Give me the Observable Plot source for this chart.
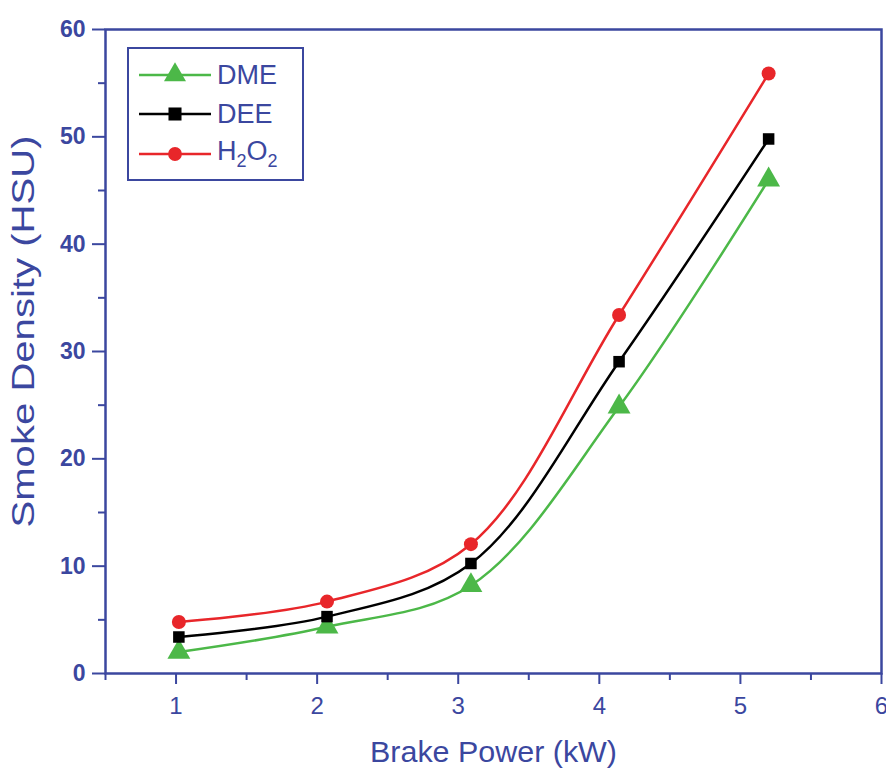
<!DOCTYPE html>
<html><head><meta charset="utf-8">
<script src="https://cdn.jsdelivr.net/npm/d3@7"></script>
<script src="https://cdn.jsdelivr.net/npm/@observablehq/plot@0.6"></script>
<style>
body{margin:0;background:#fff;font-family:"Liberation Sans",Arial,sans-serif}
#wrap{position:relative;width:886px;height:770px}
#legend{position:absolute;left:127px;top:47px;width:173px;height:130px;border:2.5px solid #3b479f;background:#fff;box-sizing:content-box}
.row{position:absolute;left:0;height:30px;display:flex;align-items:center}
.row span{font-size:27px;color:#3b479f;margin-left:5px;line-height:1}
.row sub{font-size:18px;vertical-align:-7px}
</style>
</head><body><div id="wrap"></div>
<script>
const power = [1.02, 2.07, 3.09, 4.14, 5.2];
const dme = [2.0, 4.35, 8.2, 24.85, 46.0];
const dee = [3.4, 5.3, 10.25, 29.05, 49.8];
const h2o2 = [4.8, 6.7, 12.05, 33.4, 55.9];
const seriesNames = ["DME", "DEE", "H2O2"];
const seriesColors = ["#4cb848", "#000000", "#e8262a"];
const seriesSymbols = ["triangle", "square", "circle"];
const xTicks = [1, 2, 3, 4, 5, 6];
const xMinor = [0.5, 1.5, 2.5, 3.5, 4.5, 5.5];
const yTicks = [0, 10, 20, 30, 40, 50, 60];
const yMinor = [5, 15, 25, 35, 45, 55];
const xTitle = "Brake Power (kW)";
const yTitle = "Smoke Density (HSU)";

const blue = "#3b479f";
const allValues = [dme, dee, h2o2];
const data = [];
allValues.forEach((vals, i) => vals.forEach((v, j) => data.push({series: seriesNames[i], x: power[j], y: v})));

const markSizes = {triangle: 8.5, square: 6.5, circle: 7};

const marks = [
  Plot.axisX({ticks: xTicks, tickFormat: d3.format("d"), tickSize: 11, tickPadding: 12, fontSize: 24, stroke: blue, strokeWidth: 2, fill: blue, color: blue, label: null}),
  Plot.axisX({ticks: xMinor, tickSize: 7, tickFormat: () => "", stroke: blue, strokeWidth: 2, label: null}),
  Plot.axisY({ticks: yTicks, tickFormat: d3.format("d"), tickSize: 13, tickPadding: 7, fontSize: 23, fontWeight: "bold", stroke: blue, strokeWidth: 2, fill: blue, color: blue, label: null}),
  Plot.axisY({ticks: yMinor, tickSize: 7, tickFormat: () => "", stroke: blue, strokeWidth: 2, label: null}),
  Plot.frame({stroke: blue, strokeWidth: 2.5}),
];
seriesNames.forEach((name, i) => {
  const d = data.filter(e => e.series === name);
  marks.push(Plot.line(d, {x: "x", y: "y", stroke: seriesColors[i], strokeWidth: 2.5, curve: "catmull-rom"}));
});
seriesNames.forEach((name, i) => {
  const d = data.filter(e => e.series === name);
  marks.push(Plot.dot(d, {x: "x", y: "y", symbol: () => seriesSymbols[i], fill: seriesColors[i], stroke: "none", r: markSizes[seriesSymbols[i]]}));
});
marks.push(Plot.text([xTitle], {text: d => d, frameAnchor: "bottom", textAnchor: "middle", dy: 79, lineAnchor: "middle", fontSize: 30, fill: blue, className: "xtitle"}));
marks.push(Plot.text([yTitle], {text: d => d, frameAnchor: "left", textAnchor: "middle", dx: -81, dy: -20, rotate: -90, lineAnchor: "middle", fontSize: 31, fill: blue, className: "ytitle"}));

const chart = Plot.plot({
  width: 886, height: 770,
  marginLeft: 105, marginRight: 5, marginTop: 29, marginBottom: 97,
  style: {fontFamily: "'Liberation Sans', Arial, sans-serif", background: "#fff", color: blue, overflow: "visible"},
  x: {domain: [0.5, 6]},
  y: {domain: [0, 60]},
  symbol: {domain: seriesSymbols, range: seriesSymbols},
  marks
});
const wrap = document.getElementById("wrap");
wrap.appendChild(chart);
// stretch titles to the reference lengths
const xt = chart.querySelector(".xtitle text");
if (xt) { xt.setAttribute("textLength", 247); xt.setAttribute("lengthAdjust", "spacingAndGlyphs"); }
const yt = chart.querySelector(".ytitle text");
if (yt) { yt.setAttribute("textLength", 392); yt.setAttribute("lengthAdjust", "spacingAndGlyphs"); }

// legend
const legend = document.createElement("div");
legend.id = "legend";
const labelsHtml = ["DME", "DEE", "H<sub>2</sub>O<sub>2</sub>"];
const rowTops = [11, 50, 90];
seriesNames.forEach((name, i) => {
  const row = document.createElement("div");
  row.className = "row";
  row.style.top = rowTops[i] + "px";
  row.style.left = "8px";
  const svg = d3.create("svg").attr("width", 75).attr("height", 30);
  svg.append("line").attr("x1", 2).attr("x2", 74).attr("y1", 15).attr("y2", 15).attr("stroke", seriesColors[i]).attr("stroke-width", 2.5);
  const sym = d3.symbol().type({triangle: d3.symbolTriangle, square: d3.symbolSquare, circle: d3.symbolCircle}[seriesSymbols[i]]).size({triangle: 210, square: 170, circle: 150}[seriesSymbols[i]]);
  svg.append("path").attr("d", sym()).attr("transform", "translate(38,15)").attr("fill", seriesColors[i]);
  row.appendChild(svg.node());
  const sp = document.createElement("span");
  sp.innerHTML = labelsHtml[i];
  row.appendChild(sp);
  legend.appendChild(row);
});
wrap.appendChild(legend);
</script>
</body></html>
